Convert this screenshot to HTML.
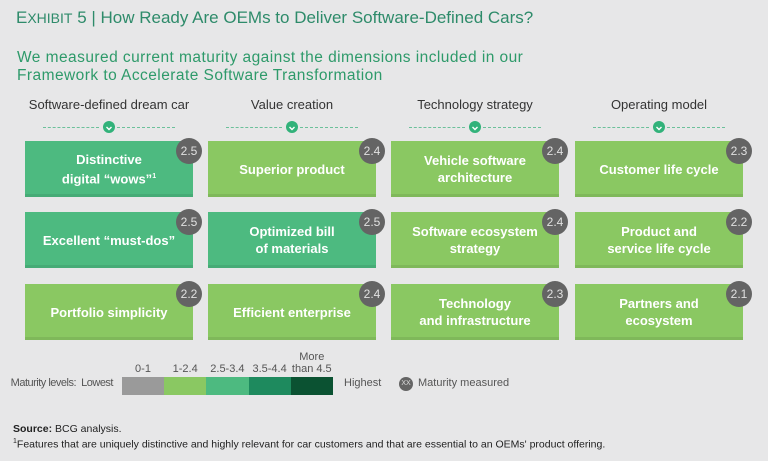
<!DOCTYPE html>
<html><head><meta charset="utf-8"><style>
body{margin:0;width:768px;height:461px;background:#e7e7e8;font-family:"Liberation Sans",sans-serif;position:relative;overflow:hidden}
.abs{position:absolute}
.title{left:16px;top:8px;font-size:17px;color:#2e8b6a}
.sub{left:17px;top:49px;font-size:15.5px;color:#2e9a6a;line-height:18px;letter-spacing:0.45px}
.colh{font-size:13px;color:#333;text-align:center;width:200px}
.dash{border-top:1px dashed #6cc09a;height:0}
.chev{width:12px;height:12px;border-radius:50%;background:#32b27a}
.box{color:#fff;font-weight:bold;font-size:13px;display:flex;align-items:center;justify-content:center;text-align:center;line-height:17px;box-shadow:0 -3px 0 rgba(0,0,0,0.08) inset}
.badge{width:26px;height:26px;border-radius:50%;background:#646464;color:#e0e0e0;font-size:12px;display:flex;align-items:center;justify-content:center}
.lg{font-size:11px;color:#555}
.foot{font-size:10.5px;color:#222;left:13px}
</style></head><body>
<div class="abs title">E<span style="font-size:14px">XHIBIT</span> 5 | How Ready Are OEMs to Deliver Software-Defined Cars?</div>
<div class="abs sub">We measured current maturity against the dimensions included in our<br>Framework to Accelerate Software Transformation</div>
<div id="grid"></div>
<div class="abs lg" style="left:4px;width:109px;text-align:right;top:377px;letter-spacing:-0.5px">Maturity levels:&nbsp; Lowest</div>
<div id="legend"></div>
<div class="abs lg" style="left:344px;top:377px">Highest</div>
<div class="abs" style="left:399px;top:377px;width:14px;height:14px;border-radius:50%;background:#646464;color:#ddd;font-size:7px;text-align:center;line-height:14px">XX</div>
<div class="abs lg" style="left:418px;top:377px">Maturity measured</div>
<div class="abs foot" style="top:423px"><b>Source:</b> BCG analysis.</div>
<div class="abs foot" style="top:438px"><sup style="font-size:7px">1</sup>Features that are uniquely distinctive and highly relevant for car customers and that are essential to an OEMs' product offering.</div>
<script>
const columns=["Software-defined dream car","Value creation","Technology strategy","Operating model"];
const labels=[
["Distinctive<br>digital “wows”<sup style='font-size:7px'>1</sup>","Excellent “must-dos”","Portfolio simplicity"],
["Superior product","Optimized bill<br>of materials","Efficient enterprise"],
["Vehicle software<br>architecture","Software ecosystem<br>strategy","Technology<br>and infrastructure"],
["Customer life cycle","Product and<br>service life cycle","Partners and<br>ecosystem"]];
const scores=[[2.5,2.5,2.2],[2.4,2.5,2.4],[2.4,2.4,2.3],[2.3,2.2,2.1]];
const levelLabels=["0-1","1-2.4","2.5-3.4","3.5-4.4","More<br>than 4.5"];
const levelColors=["#9a9a9a","#8ac862","#4dba80","#1e8a5e","#0b5232"];
function color(v){return v<1?levelColors[0]:v<2.5?levelColors[1]:v<3.5?levelColors[2]:v<4.5?levelColors[3]:levelColors[4];}
const g=document.getElementById('grid');
const colX=[25,208,391,575],W=168,rowY=[141,212,284],H=56;
columns.forEach((c,i)=>{
 const cx=colX[i]+W/2;
 const h=document.createElement('div');h.className='abs colh';h.style.left=(cx-100)+'px';h.style.top='97px';h.innerHTML=c;
 
 
 g.appendChild(h);
 [[-66,-10],[8,66]].forEach(([a,b])=>{const d=document.createElement('div');d.className='abs dash';d.style.left=(cx+a)+'px';d.style.width=(b-a)+'px';d.style.top='127px';
 
 
 g.appendChild(d);});
 const ch=document.createElement('div');ch.className='abs chev';ch.style.left=(cx-6)+'px';ch.style.top='121px';
 ch.innerHTML="<svg width='12' height='12'><path d='M3.5 5 L6 7.5 L8.5 5' stroke='#fff' stroke-width='1.4' fill='none'/></svg>";
 
 
 g.appendChild(ch);
 labels[i].forEach((t,j)=>{
  const b=document.createElement('div');b.className='abs box';
  b.style.cssText+=`left:${colX[i]}px;top:${rowY[j]}px;width:${W}px;height:${H}px;background:${color(scores[i][j])}`;
  b.innerHTML='<div>'+t+'</div>';
  
  
  g.appendChild(b);
  const s=document.createElement('div');s.className='abs badge';
  s.style.left=(colX[i]+W-17)+'px';s.style.top=(rowY[j]-3)+'px';s.textContent=scores[i][j].toFixed(1);
  
  
  g.appendChild(s);
 });
});
const L=document.getElementById('legend');
levelLabels.forEach((t,i)=>{
 const x=122+i*42.2;
 const s=document.createElement('div');s.className='abs';s.style.cssText=`left:${x}px;top:377px;width:42.4px;height:18px;background:${levelColors[i]}`;
 
 
 L.appendChild(s);
 const l=document.createElement('div');l.className='abs lg';l.style.cssText=`left:${x-10}px;width:62px;text-align:center;line-height:12px;top:${i==4?351:363}px`;l.innerHTML=t;
 
 
 L.appendChild(l);
});
</script>
</body></html>
